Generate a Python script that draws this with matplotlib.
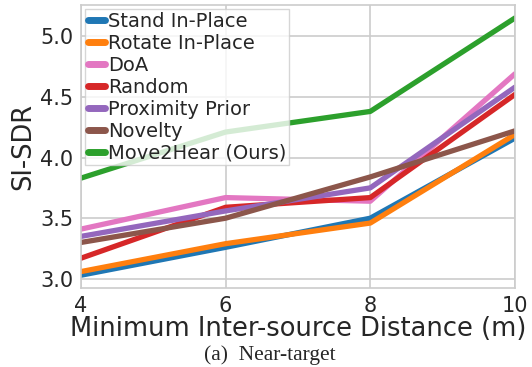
import matplotlib
matplotlib.use("Agg")
import matplotlib.pyplot as plt
import seaborn as sns

distances = [4, 6, 8, 10]
methods = ["Stand In-Place", "Rotate In-Place", "DoA", "Random",
           "Proximity Prior", "Novelty", "Move2Hear (Ours)"]
colors = ["#1f77b4", "#ff7f0e", "#e377c2", "#d62728",
          "#9467bd", "#8c564b", "#2ca02c"]

stand = [3.03, 3.26, 3.50, 4.16]
rotate = [3.06, 3.29, 3.46, 4.19]
doa = [3.41, 3.67, 3.64, 4.69]
random_ = [3.17, 3.59, 3.67, 4.52]
proximity = [3.35, 3.56, 3.75, 4.58]
novelty = [3.30, 3.50, 3.84, 4.22]
move2hear = [3.83, 4.21, 4.38, 5.15]

series = [stand, rotate, doa, random_, proximity, novelty, move2hear]

sns.set_style("whitegrid")
plt.rcParams['font.family'] = ['DejaVu Sans']

fig, ax = plt.subplots(figsize=(5.32, 3.67), dpi=100)
fig.subplots_adjust(left=0.152, right=0.968, top=0.986, bottom=0.215)

for name, vals, c in zip(methods, series, colors):
    ax.plot(distances, vals, color=c, linewidth=3.8, label=name)

ax.set_xlim(4, 10)
ax.set_xticks([4, 6, 8, 10])
ax.set_yticks([3.0, 3.5, 4.0, 4.5, 5.0])
ax.tick_params(labelsize=15, colors="#262626", pad=2)
ax.set_xlabel("Minimum Inter-source Distance (m)", fontsize=18.5, labelpad=0)
ax.set_ylabel("SI-SDR", fontsize=18.5, labelpad=3)
for sp in ax.spines.values():
    sp.set_color("#cccccc")
    sp.set_linewidth(1.2)
ax.grid(color="#cccccc", linewidth=1.2)

leg = ax.legend(loc="upper left", fontsize=14, handlelength=0.9,
                handletextpad=0.15, labelspacing=0.15, borderaxespad=0.2,
                borderpad=0.15, framealpha=0.8, fancybox=False)
for line in leg.get_lines():
    line.set_linewidth(5)

fig.text(0.508, 0.031, "(a)  Near-target", ha="center", va="center",
         fontsize=15.5, family="Liberation Serif")

fig.savefig("out.png", dpi=100)
